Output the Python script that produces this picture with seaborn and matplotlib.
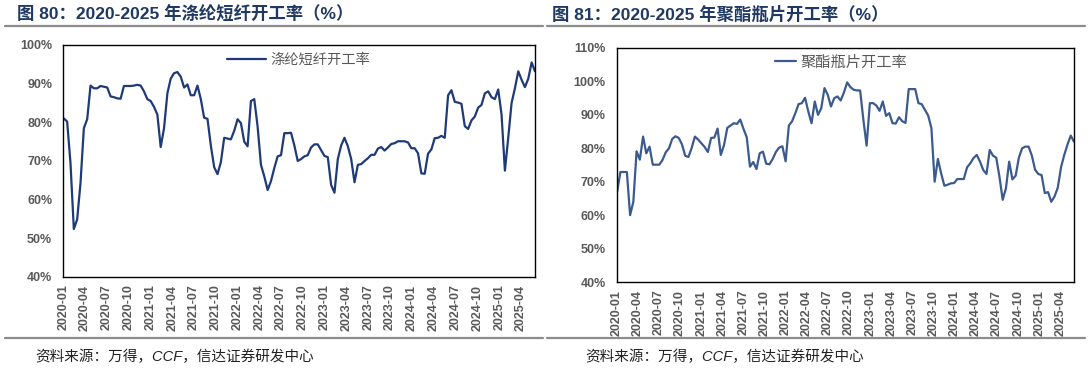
import matplotlib
matplotlib.use("Agg")
import matplotlib.pyplot as plt
import matplotlib.dates as mdates
from matplotlib.lines import Line2D
from matplotlib.ticker import FuncFormatter, MultipleLocator
import pandas as pd
import seaborn as sns

# Data (biweekly samples, %)
start_date = "2020-01-03"

psf_rate = [
    81.0, 80.2, 69.5, 52.4, 54.9, 64.3, 78.5, 80.8, 89.5, 88.8,
    88.8, 89.4, 89.2, 89.0, 86.7, 86.5, 86.2, 86.1, 89.4, 89.4,
    89.4, 89.5, 89.7, 89.5, 88.0, 86.0, 85.5, 84.0, 82.0, 73.6,
    78.5, 87.5, 91.3, 92.7, 93.0, 91.8, 89.0, 89.8, 87.0, 87.0,
    89.5, 86.0, 81.2, 80.9, 74.0, 68.4, 66.6, 69.7, 76.0, 75.8,
    75.6, 77.8, 80.8, 79.8, 75.0, 73.8, 85.5, 86.0, 78.9, 69.0,
    66.0, 62.5, 64.8, 68.2, 71.2, 71.5, 77.2, 77.2, 77.3, 74.0,
    70.0, 70.5, 71.2, 71.5, 73.5, 74.3, 74.3, 72.8, 71.3, 71.0,
    63.8, 61.8, 70.5, 74.0, 76.0, 73.8, 70.5, 64.5, 69.0, 69.2,
    70.0, 70.7, 71.6, 71.6, 73.2, 73.6, 72.7, 73.5, 74.4, 74.6,
    75.1, 75.1, 75.1, 74.8, 73.3, 73.3, 72.0, 66.8, 66.7, 71.9,
    73.0, 75.9, 76.0, 76.5, 76.0, 87.0, 88.3, 85.3, 85.1, 84.8,
    79.0, 78.3, 80.5, 81.5, 83.8, 84.5, 87.5, 88.0, 86.5, 86.0,
    88.5, 82.0, 67.5, 76.0, 85.0, 88.8, 93.2, 91.0, 89.1, 91.3,
    95.5, 93.2,
]

bottle_rate = [
    67.0, 72.9, 72.9, 72.9, 60.0, 64.0, 79.1, 76.6, 83.5, 78.5,
    80.5, 75.1, 75.1, 75.1, 76.5, 78.8, 80.0, 82.8, 83.6, 83.1,
    81.2, 77.8, 77.4, 80.1, 83.5, 82.6, 81.5, 80.4, 78.9, 83.1,
    83.2, 85.9, 78.0, 81.0, 86.1, 86.8, 87.5, 87.3, 88.6, 85.8,
    83.3, 74.5, 75.9, 73.8, 78.5, 79.0, 75.4, 75.2, 76.8, 78.9,
    80.2, 80.6, 76.1, 86.8, 88.1, 90.5, 93.2, 93.5, 95.1, 91.0,
    87.5, 94.0, 90.0, 92.0, 98.0, 96.0, 92.5, 95.0, 95.5, 94.3,
    96.7, 99.7, 98.3, 97.5, 97.3, 97.3, 88.5, 80.8, 93.5, 93.5,
    92.8, 91.2, 94.0, 89.7, 90.5, 87.5, 87.4, 89.3, 88.1, 87.6,
    97.7, 97.7, 97.7, 93.5, 93.2, 91.5, 89.8, 86.0, 70.0, 76.8,
    72.5, 68.8, 69.1, 69.5, 69.6, 70.8, 70.8, 70.8, 74.3, 75.5,
    77.1, 78.0, 76.0, 73.5, 72.3, 79.5, 77.8, 77.2, 71.5, 64.6,
    68.0, 76.0, 70.7, 71.8, 77.2, 80.0, 80.5, 80.5, 77.8, 73.6,
    72.3, 72.0, 66.6, 66.9, 64.0, 65.6, 68.2, 74.3, 78.0, 81.1,
    83.8, 82.0,
]

titles = ["图 80：2020-2025 年涤纶短纤开工率（%）", "图 81：2020-2025 年聚酯瓶片开工率（%）"]
labels = ["涤纶短纤开工率", "聚酯瓶片开工率"]
source = "资料来源：万得，CCF，信达证券研发中心"

sns.set_style("white")
plt.rcParams["font.family"] = ["Liberation Sans", "Noto Sans CJK SC", "DejaVu Sans"]

fig = plt.figure(figsize=(10.88, 3.70), dpi=100)
fig.patch.set_facecolor("white")

ax1 = fig.add_axes([0.0582, 0.2514, 0.4335, 0.6270])
ax2 = fig.add_axes([0.5668, 0.2378, 0.4203, 0.6325])

panels = [
    (ax1, psf_rate, "#1F3A78", (40, 100), labels[0], (0.347, 0.935), 10.3, 2.7),
    (ax2, bottle_rate, "#3B5A8F", (40, 110), labels[1], (0.346, 0.940), 11, 1.4),
]

for ax, values, color, ylim, label, anchor, lsize, hlen in panels:
    df = pd.DataFrame({
        "date": pd.date_range(start_date, periods=len(values), freq="2W-FRI"),
        "rate": values,
    })
    sns.lineplot(data=df, x="date", y="rate", ax=ax, color=color, linewidth=1.6, label=label)
    ax.set_xlim(pd.Timestamp("2020-01-01"), df["date"].iloc[-1])
    ax.set_ylim(*ylim)
    ax.yaxis.set_major_locator(MultipleLocator(10))
    ax.yaxis.set_major_formatter(FuncFormatter(lambda v, p: f"{v:.0f}%"))
    ax.xaxis.set_major_locator(mdates.MonthLocator(bymonth=[1, 4, 7, 10]))
    ax.xaxis.set_major_formatter(mdates.DateFormatter("%Y-%m"))
    ax.set_xlabel("")
    ax.set_ylabel("")
    for s in ax.spines.values():
        s.set_color("black")
        s.set_linewidth(1.0)
    ax.tick_params(axis="x", direction="in", length=3.5, width=1, pad=5.5,
                   labelsize=9, labelcolor="#595959", rotation=90)
    ax.tick_params(axis="y", direction="in", length=3.5, width=1, pad=8,
                   labelsize=9, labelcolor="#595959")
    for t in ax.get_xticklabels() + ax.get_yticklabels():
        t.set_fontweight("bold")
    leg = ax.legend(loc="center left", bbox_to_anchor=anchor, frameon=False,
                    borderpad=0, borderaxespad=0, handlelength=hlen, handletextpad=0.3,
                    prop={"family": ["Noto Sans CJK SC"], "size": lsize})
    for t in leg.get_texts():
        t.set_color("#595959")

# titles, separator lines and source notes
for x0, title in zip([0.0156, 0.5075], titles):
    fig.text(x0, 0.962, title, fontsize=12.5, fontweight="bold", color="#1F3864",
             va="center", ha="left")
for x0, x1 in [(0.005, 0.499), (0.503, 0.997)]:
    fig.add_artist(Line2D([x0, x1], [0.930, 0.930], color="#8C8C8C", linewidth=1.6))
    fig.add_artist(Line2D([x0, x1], [0.086, 0.086], color="#8C8C8C", linewidth=1.6))
for x0 in [0.032, 0.538]:
    fig.text(x0, 0.035, source, fontsize=10.5, style="italic", color="#222222",
             va="center", ha="left")

fig.savefig("out.png", dpi=100, facecolor="white")
